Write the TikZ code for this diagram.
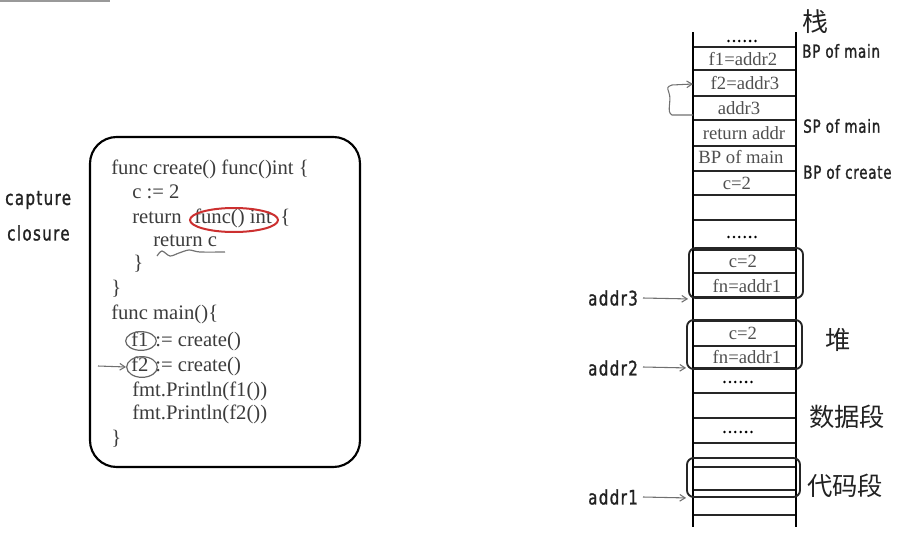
\documentclass[tikz,border=0pt]{standalone}
\usepackage{fontspec}
\setmainfont{Liberation Serif}
\newfontfamily\codefont{Liberation Serif}
\newfontfamily\handfont[FakeStretch=0.75,LetterSpace=4,FakeBold=1.3]{DejaVu Sans}
\newfontfamily\handwide[FakeStretch=0.75,LetterSpace=7,FakeBold=1.3]{DejaVu Sans}
\newfontfamily\cjkfont{Noto Sans CJK SC}
\usetikzlibrary{arrows.meta,shapes.geometric}
\definecolor{codegray}{HTML}{3C3C3C}
\definecolor{cellgray}{HTML}{505050}
\definecolor{arrgray}{HTML}{707070}
\definecolor{ink}{HTML}{222222}
\definecolor{redmark}{HTML}{CC3030}
\tikzset{
  code/.style={anchor=base west, inner sep=0pt, text=codegray, font=\codefont\fontsize{15.5}{18}\selectfont},
  cell/.style={inner sep=0pt, text=cellgray, font=\codefont\fontsize{14}{16}\selectfont},
  hand/.style={anchor=west, inner sep=0pt, text=ink, font=\handfont\fontsize{13.5}{15}\selectfont},
  handw/.style={anchor=west, inner sep=0pt, text=ink, font=\handwide\fontsize{15}{17}\selectfont},
  cjk/.style={inner sep=0pt, text=ink, font=\cjkfont\fontsize{19}{21}\selectfont},
  cellline/.style={draw=black!85, line width=1.1pt},
  colline/.style={draw=black, line width=1.4pt},
  heapbox/.style={draw=black!85, line width=1.4pt, rounded corners=5pt, inner sep=0pt},
  arr/.style={draw=arrgray, line width=0.8pt, -{Straight Barb[length=4pt,width=5pt]}},
  grayell/.style={ellipse, draw=black!60, line width=0.9pt, inner sep=0pt},
}
\begin{document}
\begin{tikzpicture}[x=0.75pt,y=-0.75pt]
\useasboundingbox (0,0) rectangle (908,539);
% top-left gray rule
\draw[black!40, line width=1.5pt] (0,1) -- (110,1);

% ---------------- code box ----------------
\node[draw=black, line width=1.6pt, rounded corners=20pt, minimum width=202.5pt, minimum height=247.5pt] (cb) at (225,302) {};
\node[handw] (cap) at (5,200) {capture};
\node[handw] (clo) at (7,233) {closure};

\node[code] (l1) at (111,174) {func create() func()int \{};
\node[code] (l2) at (132,198) {c := 2};
\node[code] (l3a) at (132,223) {return};
\node[code] (l3b) at (194,223) {func() int};
\node[code] (l3c) at (280,223) {\{};
\node[code] (l4) at (153,246) {return c};
\node[code] (l5) at (133,269) {\}};
\node[code] (l6) at (111,294) {\}};
\node[code] (l7) at (111,319) {func main()\{};
\node[code] (l8a) at (131,346) {f1};
\node[code] (l8b) at (155,346) {:= create()};
\node[code] (l9a) at (131,371) {f2};
\node[code] (l9b) at (155,371) {:= create()};
\node[code] (l10) at (132,396) {fmt.Println(f1())};
\node[code] (l11) at (132,419) {fmt.Println(f2())};
\node[code] (l12) at (111,444) {\}};

\node[ellipse, draw=redmark, line width=1.5pt, minimum width=66pt, minimum height=18pt, inner sep=0pt] (red) at (234,220) {};
\node[grayell, minimum width=23pt, minimum height=14pt] (e1) at (141,341) {};
\node[grayell, minimum width=23pt, minimum height=15.5pt] (e2) at (142,367) {};
\coordinate (f2tail) at (98,366);
\draw[arr] (f2tail) -- (e2.west);
\draw[black!55, line width=0.9pt] plot[smooth] coordinates {(157,256) (162,251) (170,256) (179,253) (189,250) (200,252) (225,252)};

% ---------------- memory column ----------------
\foreach \yy in {47,70,96,120,146,171,195,220,250,273,297,321,346,368,393,418,443,467,490,515}
  \draw[cellline] (693,\yy) -- (796,\yy);
\draw[colline] (693,32) -- (693,527);
\draw[colline] (796,32) -- (796,527);

% dots rows
\foreach \cx/\cy in {742/41, 742/237, 738/382, 738/432}
  \foreach \i in {0,...,5}
    \fill[black] (\cx-13.5+\i*5.4,\cy) circle (1.05pt);

% stack cells
\node[cell] (s1) at (743,59) {f1=addr2};
\node[cell] (s2) at (745,83) {f2=addr3};
\node[cell] (s3) at (739,108) {addr3};
\node[cell] (s4) at (744,133) {return addr};
\node[cell] (s5) at (741,157) {BP of main};
\node[cell] (s6) at (737,183) {c=2};

% heap cells
\node[cell] (h1) at (743,261) {c=2};
\node[cell] (h2) at (747,286) {fn=addr1};
\node[cell] (h3) at (743,333) {c=2};
\node[cell] (h4) at (747,357) {fn=addr1};

\node[heapbox, minimum width=85.5pt, minimum height=37.5pt] (hb1) at (746,273) {};
\node[heapbox, minimum width=86.25pt, minimum height=36.75pt] (hb2) at (744.5,344.5) {};
\node[heapbox, minimum width=84.75pt, minimum height=29.25pt] (cs) at (743.5,477.5) {};

% brace arrow addr3 -> f2
\coordinate (bTop) at (693,84);
\coordinate (bBot) at (693,115);
\draw[arr] (bBot) -- (672,115) .. controls (666,112) and (672,101) .. (669,93) .. controls (667,87) .. (672,85) -- (bTop);

% right labels
\node[cjk, font=\cjkfont\fontsize{19.5}{21}\selectfont] (zhan) at (815,22) {栈};
\node[hand] (bpm) at (802,51) {BP of main};
\node[hand] (spm) at (803,126) {SP of main};
\node[hand] (bpc) at (803,172) {BP of create};
\node[cjk] (dui) at (838,340) {堆};
\node[cjk] (data) at (847,417) {数据段};
\node[cjk] (codeseg) at (845,486) {代码段};

% left address labels
\node[handw] (a3) at (588,298) {addr3};
\node[handw] (a2) at (588,368) {addr2};
\node[handw] (a1) at (588,497) {addr1};
\draw[arr] (643,298) -- (hb1.south west);
\draw[arr] (643,367) -- ([yshift=1.5pt]hb2.south west);
\draw[arr] (643,497) -- (cs.south west);
\end{tikzpicture}
\end{document}
